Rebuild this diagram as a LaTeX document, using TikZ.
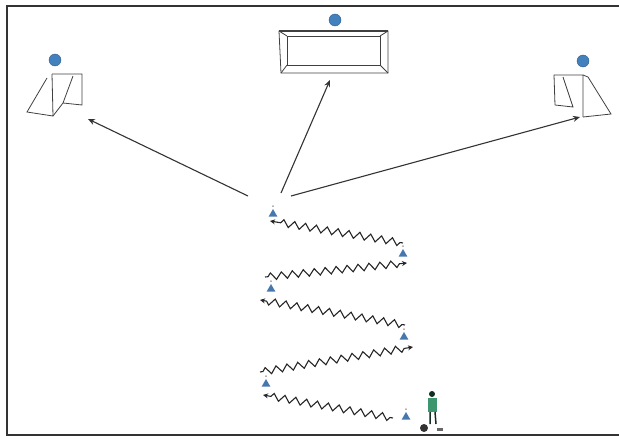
\documentclass[tikz,border=0pt]{standalone}
\usetikzlibrary{shapes.geometric, arrows.meta, decorations.pathmorphing, positioning}

\definecolor{ballblue}{RGB}{66,128,190}
\definecolor{coneblue}{RGB}{70,120,175}
\definecolor{shirtgreen}{RGB}{60,150,110}

\tikzset{
  frame/.style={draw=black!80, line width=1.4pt},
  goalline/.style={draw=black!75, line width=0.8pt},
  ball/.style={circle, fill=ballblue, draw=ballblue!70!black, inner sep=0pt, minimum size=12pt},
  cone/.style={regular polygon, regular polygon sides=3, fill=coneblue, inner sep=0pt, minimum size=10pt},
  pass/.style={draw=black!80, line width=1.1pt, -{Stealth[length=7pt,width=6pt]}},
  dribble/.style={draw=black!85, line width=1.1pt, -{Stealth[length=5pt,width=5pt]},
    decorate, decoration={zigzag, segment length=11pt, amplitude=3.5pt, pre length=3pt, post length=6pt}},
}

\begin{document}
\begin{tikzpicture}[x=1pt,y=-1pt]
    \useasboundingbox (0,0) rectangle (619,439);
    \draw[frame] (619,6) -- (7,6) -- (7,435) -- (619,435);

    % tor oben
    \draw[goalline] (281,73) -- (279,31) -- (388,31) -- (388,73) -- cycle;
    \draw[goalline, line width=1.4pt] (279,31) -- (388,31);
    \draw[goalline] (287,36) rectangle (380,65);
    \draw[goalline] (279,31) -- (287,36) (388,31) -- (380,36)
                    (281,73) -- (287,65) (388,73) -- (380,65);
    \node[ball] (ballTop) at (335,20) {};
    \coordinate (goalTop) at (330,80);

    % tor links
    \draw[goalline] (52,74) -- (82,74) -- (82,105) -- (63,103) -- (73,76);
    \draw[goalline] (52,74) -- (53,116) -- (27,112) -- (47,78);
    \draw[goalline] (53,116) -- (63,103);
    \node[ball] (ballLeft) at (55,60) {};
    \coordinate (goalLeft) at (88,119);

    % tor rechts
    \draw[goalline] (555,105) -- (554,75) -- (583,75) -- (583,117);
    \draw[goalline] (563,77) -- (573,107) -- (555,105);
    \draw[goalline] (583,75) -- (588,77) -- (611,114) -- (583,117);
    \node[ball] (ballRight) at (583,61) {};
    \coordinate (goalRight) at (580,117);

    % huetchen
    \node[cone] (c1) at (273,214) {};
    \node[cone] (c2) at (403,254) {};
    \node[cone] (c3) at (271,289) {};
    \node[cone] (c4) at (404,337) {};
    \node[cone] (c5) at (266,384) {};
    \node[cone] (c6) at (406,417) {};
    \foreach \c in {c1,c2,c3,c4,c5,c6}
        \fill[black!70] ([yshift=2.5pt]\c.north) circle (0.7pt);

    % dribbling im slalom
    \coordinate (d1a) at (393,418); \coordinate (d1b) at (263,395);
    \coordinate (d2a) at (260,372); \coordinate (d2b) at (413,347);
    \coordinate (d3a) at (405,325); \coordinate (d3b) at (260,300);
    \coordinate (d4a) at (265,277); \coordinate (d4b) at (407,263);
    \coordinate (d5a) at (403,243); \coordinate (d5b) at (270,221);
    \draw[dribble] (d1a) -- (d1b);
    \draw[dribble] (d2a) -- (d2b);
    \draw[dribble] (d3a) -- (d3b);
    \draw[dribble] (d4a) -- (d4b);
    \draw[dribble] (d5a) -- (d5b);

    % torschuss
    \coordinate (s1) at (248,196);
    \coordinate (s2) at (281,193);
    \coordinate (s3) at (291,196);
    \draw[pass] (s1) -- (goalLeft);
    \draw[pass] (s2) -- (goalTop);
    \draw[pass] (s3) -- (goalRight);

    % spieler mit ball
    \fill[black!70!shirtgreen] (432,394) circle (3);
    \fill[shirtgreen] (428,398) rectangle (437,412);
    \draw[black!70!shirtgreen, line width=1.5pt] (430,412) -- (430,424) (435,412) -- (436,424);
    \node[circle, fill=black!80, inner sep=0pt, minimum size=8pt] (ball) at (424,428) {};
    \fill[black!60] (437,428) rectangle (443,431);
\end{tikzpicture}
\end{document}
